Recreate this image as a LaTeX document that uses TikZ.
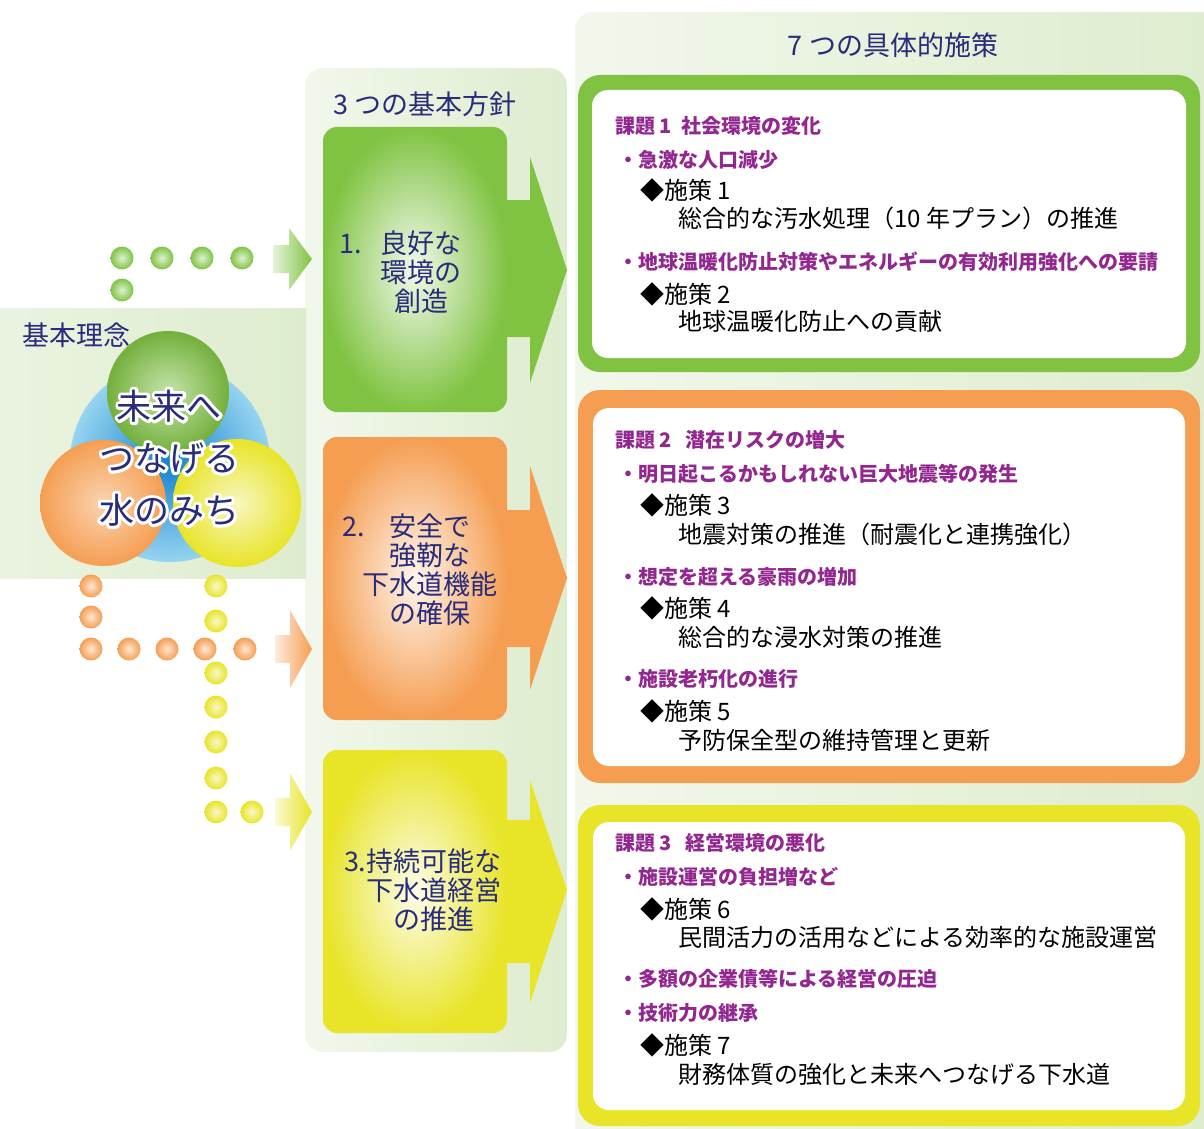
\documentclass[tikz,border=0pt]{standalone}
\usepackage{fontspec}
\setmainfont{Noto Sans CJK JP}
\usetikzlibrary{calc}
\definecolor{navy}{RGB}{40,44,122}
\definecolor{purp}{RGB}{146,39,143}
\definecolor{gbase}{RGB}{128,195,66}
\definecolor{obase}{RGB}{245,158,82}
\definecolor{ybase}{RGB}{232,228,40}
\definecolor{panel}{RGB}{222,236,206}
\definecolor{bblue}{RGB}{20,130,205}
\definecolor{lblue}{RGB}{150,212,240}
\newcommand{\strokeon}{\special{pdf:literal direct 1 Tr 6 w 1 j 1 1 1 RG}}
\newcommand{\strokeoff}{\special{pdf:literal direct 0 Tr 1 w 0 j}}
\tikzset{
 pnl/.style={rounded corners=18pt, left color=white!60!panel, right color=panel},
 boxframe/.style={rounded corners=22pt, fill=#1},
 boxinner/.style={rounded corners=16pt, fill=white},
 subhead/.style={anchor=west, inner sep=0pt, text=purp, font=\fontsize{20}{22}\selectfont\bfseries},
 itemtext/.style={anchor=west, inner sep=0pt, font=\fontsize{24}{26}\selectfont},
 ttl/.style={inner sep=0pt, text=navy, font=\fontsize{27}{30}\selectfont},
 arrtext/.style={inner sep=0pt, text=navy, align=center, font=\fontsize{27}{29}\selectfont},
 circtext/.style={inner sep=0pt, text=navy, align=center, font=\fontsize{35}{52}\selectfont},
 ball/.style={inner color=white!75!#1, outer color=#1},
 bigrect/.style={inner color=white!90!#1, outer color=#1, rounded corners=14pt},
 smallarr/.style={left color=white!80!#1, right color=#1},
}
\begin{document}
\begin{tikzpicture}[x=1pt,y=-1pt]
\useasboundingbox (0,0) rectangle (1204,1129);
% panels
\shade[pnl] (575,12) rectangle (1225,1150);
\shade[pnl] (305,68) rectangle (567,1052);
\shade[left color=white!40!panel, right color=panel] (-20,308) rectangle (306,578);
% right boxes
\fill[boxframe=gbase] (578,75) rectangle (1200,372);
\fill[boxinner] (592,90) rectangle (1186,358);
\fill[boxframe=obase] (578,390) rectangle (1200,783);
\fill[boxinner] (593,408) rectangle (1185,766);
\fill[boxframe=ybase] (578,805) rectangle (1200,1126);
\fill[boxinner] (593,822) rectangle (1185,1110);
% big arrows
\shade[bigrect=gbase] (323,127) rectangle (507,412);
\fill[gbase] (505,200) -- (530,200) -- (530,157) -- (567,270) -- (530,383) -- (530,337) -- (505,337) -- cycle;
\shade[bigrect=obase] (323,437) rectangle (507,720);
\fill[obase] (505,510) -- (530,510) -- (530,466) -- (567,578) -- (530,690) -- (530,647) -- (505,647) -- cycle;
\shade[bigrect=ybase] (323,750) rectangle (507,1033);
\fill[ybase] (505,820) -- (530,820) -- (530,780) -- (567,890) -- (530,1003) -- (530,963) -- (505,963) -- cycle;
% small arrows
\shade[smallarr=gbase] (273,245) -- (289,245) -- (289,228) -- (312,259) -- (289,290) -- (289,273) -- (273,273) -- cycle;
\shade[smallarr=obase] (275,635) -- (290,635) -- (290,610) -- (312,649) -- (290,688) -- (290,663) -- (275,663) -- cycle;
\shade[smallarr=ybase] (275,798) -- (290,798) -- (290,773) -- (312,812) -- (290,851) -- (290,826) -- (275,826) -- cycle;
% dots
\foreach \p in {(122,258),(162,258),(202,258),(242,258),(122,290)}
  \shade[ball=gbase] \p circle (11.5pt);
\foreach \y in {586,621,673,707,742,778,812}
  \shade[ball=ybase] (216,\y) circle (11.5pt);
\shade[ball=ybase] (252,812) circle (11.5pt);
\foreach \p in {(91,586),(91,617),(91,649),(129,649),(167,649),(205,649),(245,649)}
  \shade[ball=obase] \p circle (11.5pt);
% concept circles
\shade[inner color=bblue, outer color=lblue] (170,462) circle (100pt);
\shade[inner color=white!55!gbase, outer color=gbase!90!black] (168,392) circle (61pt);
\shade[inner color=white!55!obase, outer color=obase] (103,503) circle (63pt);
\shade[inner color=white!70!ybase, outer color=ybase] (237,503) circle (64pt);
\node[circtext, text=white] (mottoedge) at (169,458) {\strokeon 未来へ\\つなげる\\水のみち\strokeoff};
\node[circtext] (motto) at (169,458) {未来へ\\つなげる\\水のみち};
% titles
\node[ttl] (t7) at (893,45) {7 つの具体的施策};
\node[ttl] (t3) at (425,104) {3 つの基本方針};
\node[ttl, anchor=west, font=\fontsize{27}{30}\selectfont] (tk) at (22,335) {基本理念};
% arrow texts
\node[arrtext] (p1) at (421,272) {\llap{1.\ \ \ }良好な\\環境の\\創造};
\node[arrtext] (p2) at (430,570) {\llap{2.\ \ \ \ }安全で\\強靭な\\下水道機能\\の確保};
\node[arrtext] (p3) at (434,890) {\llap{3.}持続可能な\\下水道経営\\の推進};
% box 1
\node[subhead] (k1) at (615,126) {課題 1\ \ 社会環境の変化};
\node[subhead] (k1a) at (618,160) {・急激な人口減少};
\node[itemtext] (s1) at (640,190) {◆施策 1};
\node[itemtext] (s1t) at (678,218) {総合的な汚水処理（10 年プラン）の推進};
\node[subhead] (k1b) at (618,262) {・地球温暖化防止対策やエネルギーの有効利用強化への要請};
\node[itemtext] (s2) at (640,294) {◆施策 2};
\node[itemtext] (s2t) at (678,321) {地球温暖化防止への貢献};
% box 2
\node[subhead] (k2) at (615,440) {課題 2\ \ \ 潜在リスクの増大};
\node[subhead] (k2a) at (618,474) {・明日起こるかもしれない巨大地震等の発生};
\node[itemtext] (s3) at (640,505) {◆施策 3};
\node[itemtext] (s3t) at (678,534) {地震対策の推進（耐震化と連携強化）};
\node[subhead] (k2b) at (618,577) {・想定を超える豪雨の増加};
\node[itemtext] (s4) at (640,608) {◆施策 4};
\node[itemtext] (s4t) at (678,637) {総合的な浸水対策の推進};
\node[subhead] (k2c) at (618,679) {・施設老朽化の進行};
\node[itemtext] (s5) at (640,711) {◆施策 5};
\node[itemtext] (s5t) at (678,740) {予防保全型の維持管理と更新};
% box 3
\node[subhead] (k3) at (615,843) {課題 3\ \ \ 経営環境の悪化};
\node[subhead] (k3a) at (618,877) {・施設運営の負担増など};
\node[itemtext] (s6) at (640,909) {◆施策 6};
\node[itemtext] (s6t) at (678,937) {民間活力の活用などによる効率的な施設運営};
\node[subhead] (k3b) at (618,979) {・多額の企業債等による経営の圧迫};
\node[subhead] (k3c) at (618,1013) {・技術力の継承};
\node[itemtext] (s7) at (640,1045) {◆施策 7};
\node[itemtext] (s7t) at (678,1074) {財務体質の強化と未来へつなげる下水道};
\end{tikzpicture}
\end{document}
